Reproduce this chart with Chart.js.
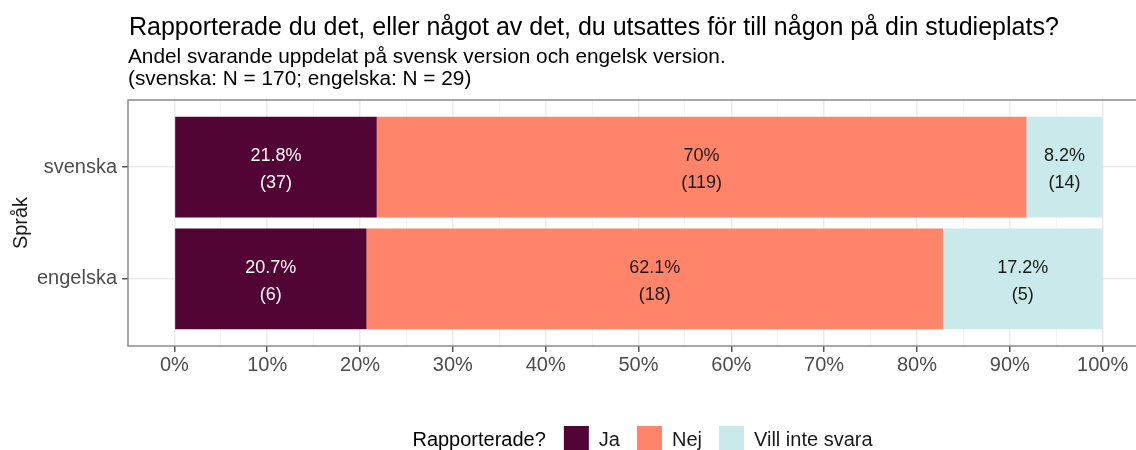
<!DOCTYPE html>
<html>
<head>
<meta charset="utf-8">
<script src="https://cdn.jsdelivr.net/npm/chart.js@4.4.1/dist/chart.umd.min.js"></script>
<style>
  html, body { margin: 0; padding: 0; background: #ffffff; overflow: hidden; }
  #wrap { position: relative; width: 1160px; height: 450px; }
</style>
</head>
<body>
<div id="wrap"><canvas id="chart"></canvas></div>
<script>
  // Data
  const languages = ['svenska', 'engelska'];
  const answers = ['Ja', 'Nej', 'Vill inte svara'];
  const svenskaPct = [21.8, 70, 8.2];
  const svenskaCount = [37, 119, 14];
  const engelskaPct = [20.7, 62.1, 17.2];
  const engelskaCount = [6, 18, 5];
  const xTicks = [0, 10, 20, 30, 40, 50, 60, 70, 80, 90, 100];
  const xMinorTicks = [5, 15, 25, 35, 45, 55, 65, 75, 85, 95];

  const titleText = 'Rapporterade du det, eller något av det, du utsattes för till någon på din studieplats?';
  const subtitleLines = [
    'Andel svarande uppdelat på svensk version och engelsk version.',
    '(svenska: N = 170; engelska: N = 29)'
  ];
  const legendTitle = 'Rapporterade?';

  const colors = ['#520435', '#FF8469', '#C9E9EB'];
  const labelColors = ['#ffffff', '#1a1a1a', '#1a1a1a'];
  const fontFamily = '"Liberation Sans", Arial, Helvetica, sans-serif';

  const datasets = answers.map(function(name, i) {
    return {
      label: name,
      data: [
        { x: svenskaPct[i], y: 1, n: svenskaCount[i] },
        { x: engelskaPct[i], y: 2, n: engelskaCount[i] }
      ],
      backgroundColor: colors[i],
      borderWidth: 0,
      barPercentage: 0.9,
      categoryPercentage: 1.0,
      stack: 'a'
    };
  });

  // Percent and count labels inside each segment
  const segmentLabels = {
    id: 'segmentLabels',
    afterDatasetsDraw(chart) {
      const ctx = chart.ctx;
      ctx.save();
      ctx.font = '18px ' + fontFamily;
      ctx.textAlign = 'center';
      ctx.textBaseline = 'middle';
      chart.data.datasets.forEach(function(ds, i) {
        const meta = chart.getDatasetMeta(i);
        meta.data.forEach(function(bar, j) {
          const p = ds.data[j];
          const cx = (bar.x + bar.base) / 2;
          ctx.fillStyle = labelColors[i];
          ctx.fillText(p.x + '%', cx, bar.y - 11);
          ctx.fillText('(' + p.n + ')', cx, bar.y + 16);
        });
      });
      ctx.restore();
    }
  };

  // Title, subtitle, panel border and legend in ggplot style
  const decorations = {
    id: 'decorations',
    afterDraw(chart) {
      const ctx = chart.ctx;
      const area = chart.chartArea;
      ctx.save();

      ctx.strokeStyle = '#8a8a8a';
      ctx.lineWidth = 1.5;
      ctx.strokeRect(area.left, area.top, area.right - area.left, area.bottom - area.top);

      ctx.fillStyle = '#000000';
      ctx.textAlign = 'left';
      ctx.textBaseline = 'alphabetic';
      ctx.font = '25px ' + fontFamily;
      ctx.fillText(titleText, area.left + 1, 35);
      ctx.font = '20.8px ' + fontFamily;
      ctx.fillText(subtitleLines[0], area.left, 63);
      ctx.fillText(subtitleLines[1], area.left, 85);

      // legend
      ctx.font = '20px ' + fontFamily;
      const box = 25;
      let total = ctx.measureText(legendTitle).width + 18;
      answers.forEach(function(a, i) {
        total += box + 10 + ctx.measureText(a).width + (i < answers.length - 1 ? 17 : 0);
      });
      let x = (area.left + area.right) / 2 - total / 2 + 4;
      const cy = 440;
      ctx.textBaseline = 'middle';
      ctx.fillStyle = '#000000';
      ctx.fillText(legendTitle, x, cy);
      x += ctx.measureText(legendTitle).width + 18;
      answers.forEach(function(a, i) {
        ctx.fillStyle = colors[i];
        ctx.fillRect(x, cy - 14, box, box);
        x += box + 10;
        ctx.fillStyle = '#1a1a1a';
        ctx.fillText(a, x, cy);
        x += ctx.measureText(a).width + 17;
      });
      ctx.restore();
    }
  };

  const canvas = document.getElementById('chart');
  new Chart(canvas.getContext('2d'), {
    type: 'bar',
    data: { datasets: datasets },
    plugins: [segmentLabels, decorations],
    options: {
      indexAxis: 'y',
      responsive: true,
      maintainAspectRatio: false,
      animation: false,
      layout: { padding: { top: 100, right: 11, bottom: 0, left: 0 } },
      plugins: {
        legend: { display: false },
        title: { display: false },
        tooltip: { enabled: false }
      },
      scales: {
        x: {
          type: 'linear',
          stacked: true,
          min: -5,
          max: 105,
          afterBuildTicks: function(scale) {
            scale.ticks = xTicks.concat(xMinorTicks).sort(function(a, b) { return a - b; })
              .map(function(v) { return { value: v }; });
          },
          afterFit: function(scale) { scale.height = 104; },
          border: { display: false },
          grid: {
            color: function(c) { return c.tick && c.tick.value % 10 === 0 ? '#EBEBEB' : '#F4F4F4'; },
            lineWidth: function(c) { return c.tick && c.tick.value % 10 === 0 ? 1.5 : 1; },
            tickColor: function(c) { return c.tick && c.tick.value % 10 === 0 ? '#555555' : 'rgba(0,0,0,0)'; },
            tickLength: 6
          },
          ticks: {
            autoSkip: false,
            maxRotation: 0,
            padding: 1,
            color: '#4D4D4D',
            font: { family: fontFamily, size: 20 },
            callback: function(v) { return v % 10 === 0 ? v + '%' : ''; }
          }
        },
        y: {
          type: 'linear',
          stacked: true,
          reverse: true,
          offset: false,
          min: 0.4,
          max: 2.6,
          afterBuildTicks: function(scale) {
            scale.ticks = languages.map(function(l, i) { return { value: i + 1 }; });
          },
          afterFit: function(scale) { scale.width = 128; },
          border: { display: false },
          grid: {
            offset: false,
            color: '#EBEBEB',
            lineWidth: 1.5,
            tickColor: '#555555',
            tickLength: 6
          },
          ticks: {
            padding: 5,
            color: '#4D4D4D',
            font: { family: fontFamily, size: 20 },
            callback: function(v) { return languages[v - 1]; }
          },
          title: {
            display: true,
            text: 'Språk',
            color: '#1a1a1a',
            font: { family: fontFamily, size: 20 },
            padding: { top: 9, bottom: 0 }
          }
        }
      }
    }
  });
</script>
</body>
</html>
